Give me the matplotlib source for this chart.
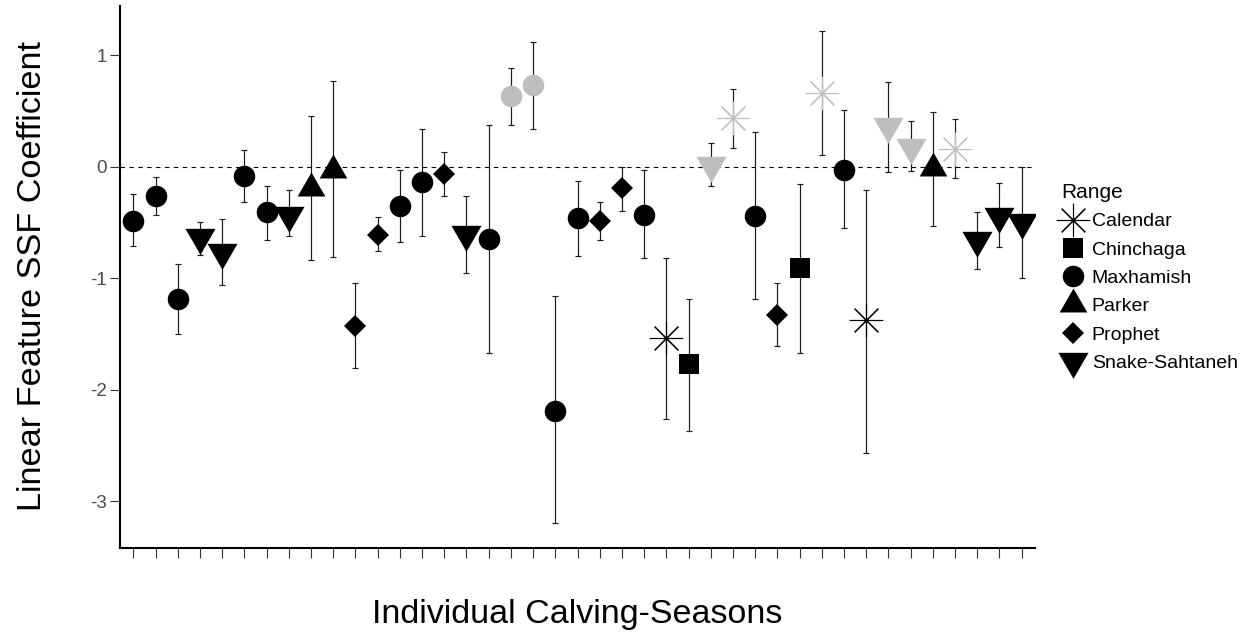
import matplotlib
matplotlib.use("Agg")
import matplotlib.pyplot as plt
from matplotlib.lines import Line2D
import numpy as np

plt.rcParams['font.family'] = ['Liberation Sans', 'DejaVu Sans']
plt.rcParams['axes.unicode_minus'] = False

# one entry per calving-season, left to right
ranges = ["Maxhamish", "Maxhamish", "Maxhamish", "Snake-Sahtaneh", "Snake-Sahtaneh",
          "Maxhamish", "Maxhamish", "Snake-Sahtaneh", "Parker", "Parker",
          "Prophet", "Prophet", "Maxhamish", "Maxhamish", "Prophet",
          "Snake-Sahtaneh", "Maxhamish", "Maxhamish", "Maxhamish", "Maxhamish",
          "Maxhamish", "Prophet", "Prophet", "Maxhamish", "Calendar",
          "Chinchaga", "Snake-Sahtaneh", "Calendar", "Maxhamish", "Prophet",
          "Chinchaga", "Calendar", "Maxhamish", "Calendar", "Snake-Sahtaneh",
          "Snake-Sahtaneh", "Parker", "Calendar", "Snake-Sahtaneh", "Snake-Sahtaneh",
          "Snake-Sahtaneh"]
coef = [-0.49, -0.26, -1.19, -0.63, -0.77, -0.08, -0.41, -0.43, -0.19, -0.03,
        -1.43, -0.61, -0.35, -0.14, -0.07, -0.60, -0.65, 0.63, 0.73, -2.19,
        -0.46, -0.49, -0.19, -0.43, -1.54, -1.77, 0.01, 0.44, -0.44, -1.33,
        -0.91, 0.66, -0.03, -1.38, 0.36, 0.18, -0.01, 0.16, -0.66, -0.44,
        -0.50]
lower = [-0.71, -0.43, -1.50, -0.79, -1.06, -0.32, -0.66, -0.62, -0.84, -0.81,
         -1.81, -0.76, -0.68, -0.62, -0.26, -0.95, -1.67, 0.37, 0.34, -3.20,
         -0.80, -0.66, -0.40, -0.82, -2.26, -2.37, -0.17, 0.17, -1.19, -1.61,
         -1.67, 0.10, -0.55, -2.57, -0.05, -0.04, -0.53, -0.10, -0.92, -0.72,
         -1.00]
upper = [-0.25, -0.09, -0.87, -0.50, -0.47, 0.15, -0.17, -0.21, 0.45, 0.77,
         -1.04, -0.45, -0.03, 0.34, 0.13, -0.26, 0.37, 0.88, 1.12, -1.16,
         -0.13, -0.32, 0.00, -0.03, -0.82, -1.19, 0.21, 0.70, 0.31, -1.04,
         -0.16, 1.22, 0.51, -0.21, 0.76, 0.41, 0.49, 0.43, -0.41, -0.15,
         0.00]

range_order = ["Calendar", "Chinchaga", "Maxhamish", "Parker", "Prophet", "Snake-Sahtaneh"]
y_ticks = [-3, -2, -1, 0, 1]

# equilateral triangles centred on their centroid (like R's pch 17 / 25)
tri_up = [(0, 1), (0.866, -0.5), (-0.866, -0.5)]
tri_down = [(0, -1), (0.866, 0.5), (-0.866, 0.5)]
shapes = {
    "Calendar": dict(marker=(8, 2, 0), ms=24, mew=0.8),
    "Chinchaga": dict(marker='s', ms=15, mew=0),
    "Maxhamish": dict(marker='o', ms=15.5, mew=0),
    "Parker": dict(marker=tri_up, ms=23, mew=0),
    "Prophet": dict(marker='D', ms=11, mew=0),
    "Snake-Sahtaneh": dict(marker=tri_down, ms=25, mew=0),
}

coef = np.array(coef)
x = np.arange(1, len(coef) + 1)

fig = plt.figure(figsize=(12.49, 6.4), dpi=100)
ax = fig.add_axes([120 / 1249, 92 / 640, 915 / 1249, 542 / 640])

ax.axhline(0, color='black', lw=0.8, ls=(0, (4, 4)), zorder=1)
ax.errorbar(x, coef, yerr=[coef - np.array(lower), np.array(upper) - coef],
            fmt='none', ecolor='#1a1a1a', elinewidth=0.85, capsize=2,
            capthick=0.85, zorder=2)

for xi, yi, r in zip(x, coef, ranges):
    col = '#bebebe' if yi > 0 else 'black'
    ax.plot([xi], [yi], ls='none', color=col, mec=col, zorder=3, **shapes[r])

ax.set_xlim(0.4, len(coef) + 0.6)
ax.set_ylim(-3.42, 1.44)
ax.set_xticks(x)
ax.set_xticklabels([])
ax.set_yticks(y_ticks)
ax.set_yticklabels([str(t) for t in y_ticks])
ax.tick_params(axis='x', length=7, width=0.8, color='#333333')
ax.tick_params(axis='y', length=7, width=0.8, color='#333333',
               labelsize=13.5, labelcolor='#4d4d4d', pad=2.2)
for s in ['top', 'right']:
    ax.spines[s].set_visible(False)
for s in ['left', 'bottom']:
    ax.spines[s].set_linewidth(1.5)

fig.text(33 / 1249, 1 - 276 / 640, "Linear Feature SSF Coefficient",
         rotation=90, ha='center', va='center', fontsize=24.7)
fig.text(577 / 1249, 1 - 623 / 640, "Individual Calving-Seasons",
         ha='center', va='baseline', fontsize=24.5)

handles = [Line2D([], [], ls='none', color='black', mec='black', **shapes[r])
           for r in range_order]
fig.legend(handles, range_order, title="Range", loc='upper left',
           bbox_to_anchor=(1061 / 1249, 1 - 183 / 640), frameon=False,
           fontsize=14, title_fontsize=15, handlelength=1.2,
           handletextpad=0.38, labelspacing=0.55, borderpad=0,
           borderaxespad=0, alignment='left')

fig.savefig("out.png", dpi=100)
